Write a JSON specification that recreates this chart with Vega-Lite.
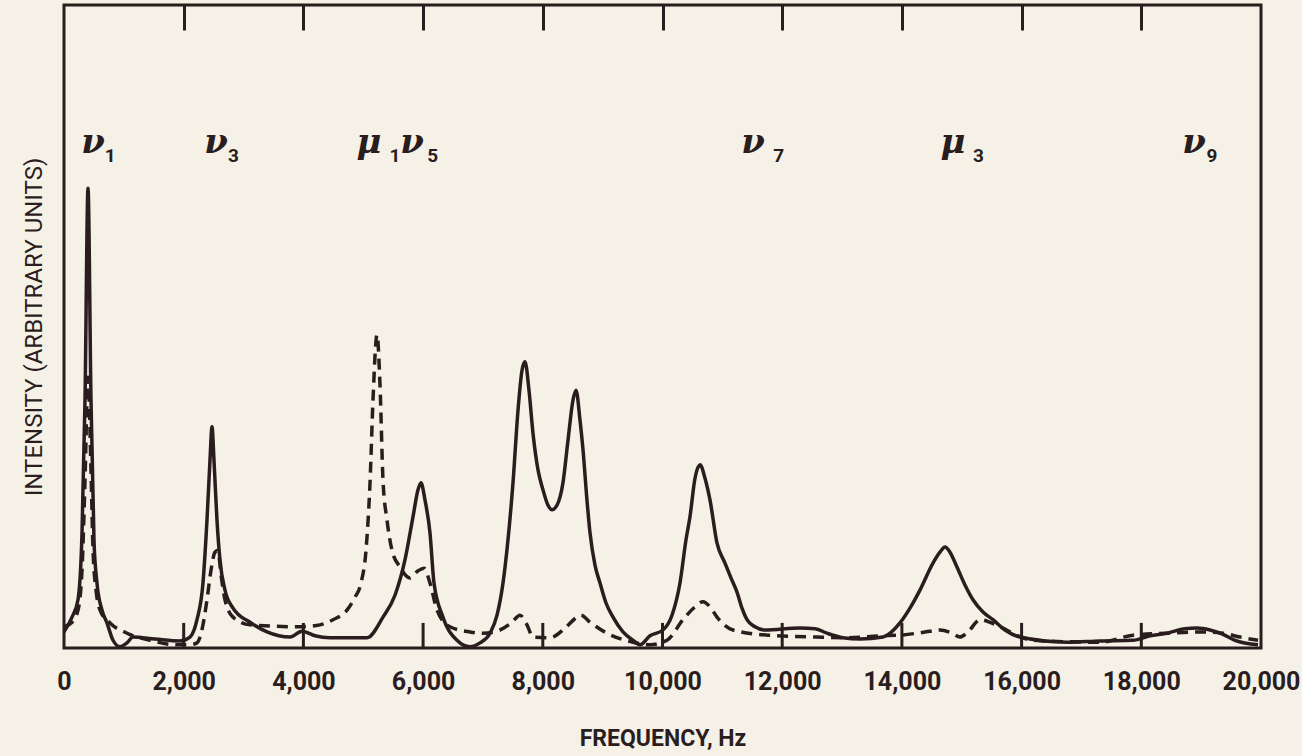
{
  "$schema": "https://vega.github.io/schema/vega-lite/v6.json",
  "width": 1197,
  "height": 643,
  "autosize": {"type": "none"},
  "padding": {"left": 64, "top": 5, "right": 41, "bottom": 108},
  "background": "#f6f1e7",
  "config": {
    "view": {"stroke": "#2a1d1d", "strokeWidth": 3},
    "axis": {"grid": false}
  },
  "datasets": {
    "solid": [
      {"f": 0, "v": 2.5}, {"f": 134, "v": 4.8}, {"f": 234, "v": 7.5}, {"f": 301, "v": 17.9},
      {"f": 351, "v": 38.6}, {"f": 401, "v": 71.5}, {"f": 451, "v": 38.6}, {"f": 501, "v": 16.8},
      {"f": 551, "v": 10.1}, {"f": 635, "v": 5.9}, {"f": 718, "v": 3.9}, {"f": 819, "v": 1.2},
      {"f": 936, "v": 0.2}, {"f": 1053, "v": 0.8}, {"f": 1153, "v": 1.7}, {"f": 1520, "v": 1.4},
      {"f": 1938, "v": 1.1}, {"f": 2105, "v": 1.7}, {"f": 2222, "v": 4.4}, {"f": 2322, "v": 10.1},
      {"f": 2389, "v": 19.9}, {"f": 2439, "v": 29.2}, {"f": 2473, "v": 34.4}, {"f": 2506, "v": 29.2},
      {"f": 2556, "v": 19.9}, {"f": 2606, "v": 13.7}, {"f": 2690, "v": 9.0}, {"f": 2824, "v": 6.2},
      {"f": 3108, "v": 4.0}, {"f": 3392, "v": 2.5}, {"f": 3776, "v": 1.7}, {"f": 3977, "v": 2.6},
      {"f": 4194, "v": 1.9}, {"f": 4444, "v": 1.6}, {"f": 5063, "v": 1.6}, {"f": 5330, "v": 4.8},
      {"f": 5530, "v": 8.2}, {"f": 5697, "v": 13.7}, {"f": 5831, "v": 20.4}, {"f": 5915, "v": 24.6},
      {"f": 5965, "v": 25.7}, {"f": 6032, "v": 23.0}, {"f": 6115, "v": 17.9}, {"f": 6182, "v": 10.1},
      {"f": 6332, "v": 4.8}, {"f": 6566, "v": 1.2}, {"f": 6783, "v": 0.2}, {"f": 6950, "v": 0.8},
      {"f": 7118, "v": 2.3}, {"f": 7235, "v": 5.1}, {"f": 7335, "v": 10.1}, {"f": 7418, "v": 16.8},
      {"f": 7502, "v": 25.7}, {"f": 7586, "v": 37.0}, {"f": 7653, "v": 43.2}, {"f": 7703, "v": 44.5},
      {"f": 7769, "v": 40.1}, {"f": 7836, "v": 33.4}, {"f": 7920, "v": 27.7}, {"f": 8003, "v": 24.6},
      {"f": 8087, "v": 22.2}, {"f": 8154, "v": 21.5}, {"f": 8237, "v": 22.2}, {"f": 8337, "v": 25.7},
      {"f": 8421, "v": 32.3}, {"f": 8505, "v": 38.6}, {"f": 8555, "v": 40.1}, {"f": 8621, "v": 35.5},
      {"f": 8672, "v": 30.8}, {"f": 8738, "v": 23.0}, {"f": 8789, "v": 17.9}, {"f": 8872, "v": 12.9},
      {"f": 8956, "v": 10.1}, {"f": 9056, "v": 7.0}, {"f": 9173, "v": 4.8}, {"f": 9340, "v": 2.5},
      {"f": 9507, "v": 1.2}, {"f": 9624, "v": 0.5}, {"f": 9791, "v": 1.9}, {"f": 10008, "v": 2.8},
      {"f": 10159, "v": 5.1}, {"f": 10292, "v": 10.1}, {"f": 10392, "v": 16.8}, {"f": 10459, "v": 20.4},
      {"f": 10543, "v": 26.4}, {"f": 10627, "v": 28.5}, {"f": 10710, "v": 26.4}, {"f": 10794, "v": 23.0},
      {"f": 10911, "v": 16.3}, {"f": 11044, "v": 13.2}, {"f": 11144, "v": 10.9}, {"f": 11245, "v": 8.7},
      {"f": 11328, "v": 6.2}, {"f": 11412, "v": 4.4}, {"f": 11545, "v": 3.3}, {"f": 11712, "v": 2.8},
      {"f": 12297, "v": 3.1}, {"f": 12548, "v": 3.0}, {"f": 12748, "v": 2.3}, {"f": 13015, "v": 1.6},
      {"f": 13300, "v": 1.4}, {"f": 13684, "v": 1.7}, {"f": 13968, "v": 3.9}, {"f": 14135, "v": 6.2},
      {"f": 14302, "v": 9.0}, {"f": 14519, "v": 13.2}, {"f": 14636, "v": 14.9}, {"f": 14720, "v": 15.7},
      {"f": 14803, "v": 14.9}, {"f": 14920, "v": 12.6}, {"f": 15054, "v": 9.8}, {"f": 15188, "v": 7.5},
      {"f": 15355, "v": 5.6}, {"f": 15522, "v": 4.4}, {"f": 15722, "v": 2.8}, {"f": 15973, "v": 1.7},
      {"f": 16758, "v": 0.9}, {"f": 17309, "v": 1.1}, {"f": 17861, "v": 1.2}, {"f": 18145, "v": 1.9},
      {"f": 18429, "v": 2.3}, {"f": 18730, "v": 3.0}, {"f": 18930, "v": 3.1}, {"f": 19147, "v": 2.8},
      {"f": 19348, "v": 2.2}, {"f": 19566, "v": 1.2}, {"f": 19950, "v": 0.5}
    ],
    "dashed": [
      {"f": 0, "v": 3.3}, {"f": 134, "v": 4.0}, {"f": 234, "v": 5.9}, {"f": 301, "v": 12.1},
      {"f": 351, "v": 26.1}, {"f": 401, "v": 42.1}, {"f": 451, "v": 27.7}, {"f": 485, "v": 15.2},
      {"f": 535, "v": 9.0}, {"f": 602, "v": 5.9}, {"f": 769, "v": 3.9}, {"f": 1053, "v": 2.3},
      {"f": 1437, "v": 1.2}, {"f": 1888, "v": 0.5}, {"f": 2105, "v": 0.5}, {"f": 2222, "v": 0.8},
      {"f": 2322, "v": 3.6}, {"f": 2389, "v": 7.5}, {"f": 2456, "v": 12.1}, {"f": 2523, "v": 14.9},
      {"f": 2573, "v": 15.2}, {"f": 2623, "v": 11.4}, {"f": 2690, "v": 7.5}, {"f": 2824, "v": 4.8},
      {"f": 3108, "v": 3.6}, {"f": 3943, "v": 3.3}, {"f": 4277, "v": 3.6}, {"f": 4494, "v": 4.4},
      {"f": 4728, "v": 5.9}, {"f": 4862, "v": 7.9}, {"f": 4962, "v": 10.1}, {"f": 5046, "v": 15.2},
      {"f": 5113, "v": 25.7}, {"f": 5163, "v": 38.6}, {"f": 5230, "v": 48.7}, {"f": 5280, "v": 40.9},
      {"f": 5330, "v": 26.1}, {"f": 5397, "v": 19.9}, {"f": 5480, "v": 15.2}, {"f": 5614, "v": 12.6},
      {"f": 5781, "v": 10.9}, {"f": 5915, "v": 12.0}, {"f": 6015, "v": 12.4}, {"f": 6115, "v": 10.1},
      {"f": 6232, "v": 5.9}, {"f": 6449, "v": 3.3}, {"f": 6783, "v": 2.5}, {"f": 7001, "v": 2.3},
      {"f": 7285, "v": 2.8}, {"f": 7485, "v": 4.0}, {"f": 7619, "v": 5.1}, {"f": 7736, "v": 3.6},
      {"f": 7836, "v": 1.7}, {"f": 8120, "v": 1.6}, {"f": 8371, "v": 3.1}, {"f": 8555, "v": 4.7},
      {"f": 8638, "v": 5.1}, {"f": 8789, "v": 4.0}, {"f": 9073, "v": 2.3}, {"f": 9507, "v": 0.9},
      {"f": 9791, "v": 0.5}, {"f": 10075, "v": 1.2}, {"f": 10342, "v": 4.4}, {"f": 10543, "v": 6.4},
      {"f": 10677, "v": 7.2}, {"f": 10794, "v": 6.4}, {"f": 10911, "v": 4.8}, {"f": 11178, "v": 2.8},
      {"f": 11746, "v": 2.0}, {"f": 12581, "v": 1.7}, {"f": 13082, "v": 1.6}, {"f": 13634, "v": 1.9},
      {"f": 13968, "v": 2.0}, {"f": 14252, "v": 2.3}, {"f": 14469, "v": 2.6}, {"f": 14636, "v": 2.8},
      {"f": 14837, "v": 2.3}, {"f": 14970, "v": 1.7}, {"f": 15104, "v": 2.5}, {"f": 15305, "v": 4.4},
      {"f": 15472, "v": 4.0}, {"f": 15639, "v": 3.3}, {"f": 16190, "v": 1.2}, {"f": 17309, "v": 0.9},
      {"f": 17861, "v": 2.0}, {"f": 18429, "v": 2.3}, {"f": 18981, "v": 2.5}, {"f": 19365, "v": 2.3},
      {"f": 19649, "v": 1.7}, {"f": 19950, "v": 1.2}
    ],
    "bticks": [
      {"f": 2000, "lo": 0, "hi": 3.9}, {"f": 4000, "lo": 0, "hi": 3.9}, {"f": 6000, "lo": 0, "hi": 3.9},
      {"f": 8000, "lo": 0, "hi": 3.9}, {"f": 10000, "lo": 0, "hi": 3.9}, {"f": 12000, "lo": 0, "hi": 3.9},
      {"f": 14000, "lo": 0, "hi": 3.9}, {"f": 16000, "lo": 0, "hi": 3.9}, {"f": 18000, "lo": 0, "hi": 3.9}
    ],
    "letters": [
      {"f": 485, "v": 77.0, "t": "ν"},
      {"f": 2540, "v": 77.0, "t": "ν"},
      {"f": 5096, "v": 77.0, "t": "μ"},
      {"f": 5814, "v": 77.0, "t": "ν"},
      {"f": 11512, "v": 77.0, "t": "ν"},
      {"f": 14853, "v": 77.0, "t": "μ"},
      {"f": 18880, "v": 77.0, "t": "ν"}
    ],
    "subs": [
      {"f": 770, "v": 75.6, "t": "1"},
      {"f": 2830, "v": 75.6, "t": "3"},
      {"f": 5530, "v": 75.6, "t": "1"},
      {"f": 6160, "v": 75.6, "t": "5"},
      {"f": 11940, "v": 75.6, "t": "7"},
      {"f": 15280, "v": 75.6, "t": "3"},
      {"f": 19180, "v": 75.6, "t": "9"}
    ]
  },
  "resolve": {"axis": {"x": "independent"}},
  "layer": [
    {
      "data": {"name": "solid"},
      "mark": {"type": "line", "color": "#2a1d1d", "strokeWidth": 3.5, "interpolate": "monotone"},
      "encoding": {
        "x": {
          "field": "f", "type": "quantitative",
          "scale": {"domain": [0, 20000], "nice": false},
          "axis": {
            "orient": "bottom",
            "values": [0, 2000, 4000, 6000, 8000, 10000, 12000, 14000, 16000, 18000, 20000],
            "format": ",d",
            "domain": false,
            "ticks": false,
            "labelOverlap": false,
            "labelFlush": false,
            "labelPadding": 21,
            "labelFont": "Roboto",
            "labelFontWeight": "bold", "labelFontSize": 25, "labelColor": "#2a1d1d",
            "title": "FREQUENCY, Hz",
            "titleFont": "Roboto",
            "titleFontWeight": "bold", "titleFontSize": 23, "titleColor": "#2a1d1d",
            "titlePadding": 33
          }
        },
        "y": {
          "field": "v", "type": "quantitative",
          "scale": {"domain": [0, 100], "nice": false},
          "axis": {
            "domain": false, "ticks": false, "labels": false,
            "title": "INTENSITY (ARBITRARY UNITS)",
            "titleFont": "Roboto",
            "titleFontWeight": "normal", "titleFontSize": 24, "titleColor": "#2a1d1d",
            "titlePadding": 18
          }
        }
      }
    },
    {
      "data": {"name": "dashed"},
      "mark": {"type": "line", "color": "#2a1d1d", "strokeWidth": 3.5, "strokeDash": [11, 7], "interpolate": "monotone"},
      "encoding": {
        "x": {
          "field": "f", "type": "quantitative",
          "axis": {
            "orient": "top",
            "values": [2000, 4000, 6000, 8000, 10000, 12000, 14000, 16000, 18000],
            "labels": false, "domain": false,
            "tickSize": -25, "tickWidth": 3, "tickColor": "#2a1d1d",
            "title": null
          }
        },
        "y": {"field": "v", "type": "quantitative"}
      }
    },
    {
      "data": {"name": "bticks"},
      "mark": {"type": "rule", "color": "#2a1d1d", "strokeWidth": 3},
      "encoding": {
        "x": {"field": "f", "type": "quantitative", "axis": null},
        "y": {"field": "lo", "type": "quantitative"},
        "y2": {"field": "hi"}
      }
    },
    {
      "data": {"name": "letters"},
      "mark": {"type": "text", "font": "DejaVu Serif", "fontStyle": "italic", "fontWeight": "bold", "fontSize": 34, "color": "#2a1d1d", "align": "center", "baseline": "alphabetic"},
      "encoding": {
        "x": {"field": "f", "type": "quantitative", "axis": null},
        "y": {"field": "v", "type": "quantitative"},
        "text": {"field": "t"}
      }
    },
    {
      "data": {"name": "subs"},
      "mark": {"type": "text", "font": "Roboto", "fontWeight": "bold", "fontSize": 19, "color": "#2a1d1d", "align": "center", "baseline": "alphabetic"},
      "encoding": {
        "x": {"field": "f", "type": "quantitative", "axis": null},
        "y": {"field": "v", "type": "quantitative"},
        "text": {"field": "t"}
      }
    }
  ]
}
